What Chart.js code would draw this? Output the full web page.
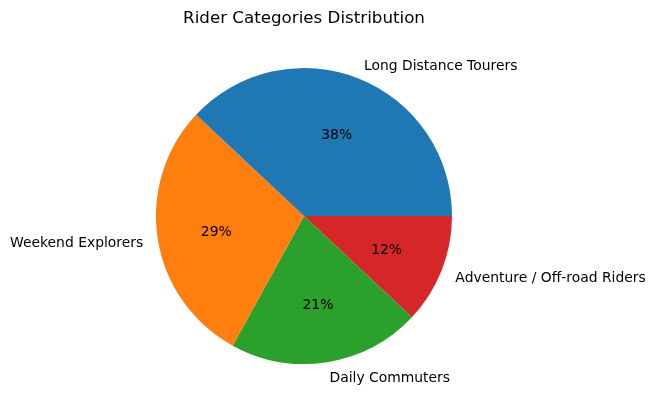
<!DOCTYPE html>
<html>
<head>
<meta charset="utf-8">
<script src="https://cdn.jsdelivr.net/npm/chart.js@4/dist/chart.umd.min.js"></script>
<style>
html,body{margin:0;padding:0;background:#fff;}
#c{display:block;}
</style>
</head>
<body>
<canvas id="c" width="654" height="411"></canvas>
<script>
const chartTitle = 'Rider Categories Distribution';
const categories = ['Long Distance Tourers', 'Weekend Explorers', 'Daily Commuters', 'Adventure / Off-road Riders'];
const shares = [38, 29, 21, 12];
const sliceColors = ['#1f77b4', '#ff7f0e', '#2ca02c', '#d62728'];

// matplotlib draws counter-clockwise from 3 o'clock; Chart.js draws clockwise, so reverse the order
const libLabels = categories.slice().reverse();
const libValues = shares.slice().reverse();
const libColors = sliceColors.slice().reverse();
const total = shares.reduce((a, b) => a + b, 0);

const FONT = '"DejaVu Sans", sans-serif';
const TEXT_DY = 2;

const labelPlugin = {
  id: 'pieLabels',
  afterDatasetsDraw(chart) {
    const ctx = chart.ctx;
    const meta = chart.getDatasetMeta(0);
    ctx.save();
    ctx.fillStyle = '#000';
    meta.data.forEach((arc, i) => {
      const p = arc.getProps(['x', 'y', 'startAngle', 'endAngle', 'outerRadius'], true);
      const mid = (p.startAngle + p.endAngle) / 2;
      const c = Math.cos(mid), s = Math.sin(mid);
      // outer category label
      ctx.font = '13.9px ' + FONT;
      ctx.textBaseline = 'middle';
      ctx.textAlign = c >= 0 ? 'left' : 'right';
      ctx.fillText(libLabels[i], p.x + c * p.outerRadius * 1.1, p.y + s * p.outerRadius * 1.1 + TEXT_DY);
      // percent label
      ctx.textAlign = 'center';
      const pct = Math.round(libValues[i] / total * 100) + '%';
      ctx.fillText(pct, p.x + c * p.outerRadius * 0.6, p.y + s * p.outerRadius * 0.6 + TEXT_DY);
    });
    // title
    ctx.font = '16.7px ' + FONT;
    ctx.textAlign = 'center';
    ctx.textBaseline = 'middle';
    ctx.fillText(chartTitle, meta.data[0].x, 19);
    ctx.restore();
  }
};

new Chart(document.getElementById('c'), {
  type: 'pie',
  data: {
    labels: libLabels,
    datasets: [{
      data: libValues,
      backgroundColor: libColors,
      borderWidth: 0,
      hoverOffset: 0
    }]
  },
  options: {
    responsive: false,
    devicePixelRatio: 1,
    animation: false,
    rotation: 90,
    layout: { padding: { left: 156, right: 202, top: 68, bottom: 47 } },
    plugins: {
      legend: { display: false },
      title: { display: false },
      tooltip: { enabled: false }
    },
    events: []
  },
  plugins: [labelPlugin]
});
</script>
</body>
</html>
